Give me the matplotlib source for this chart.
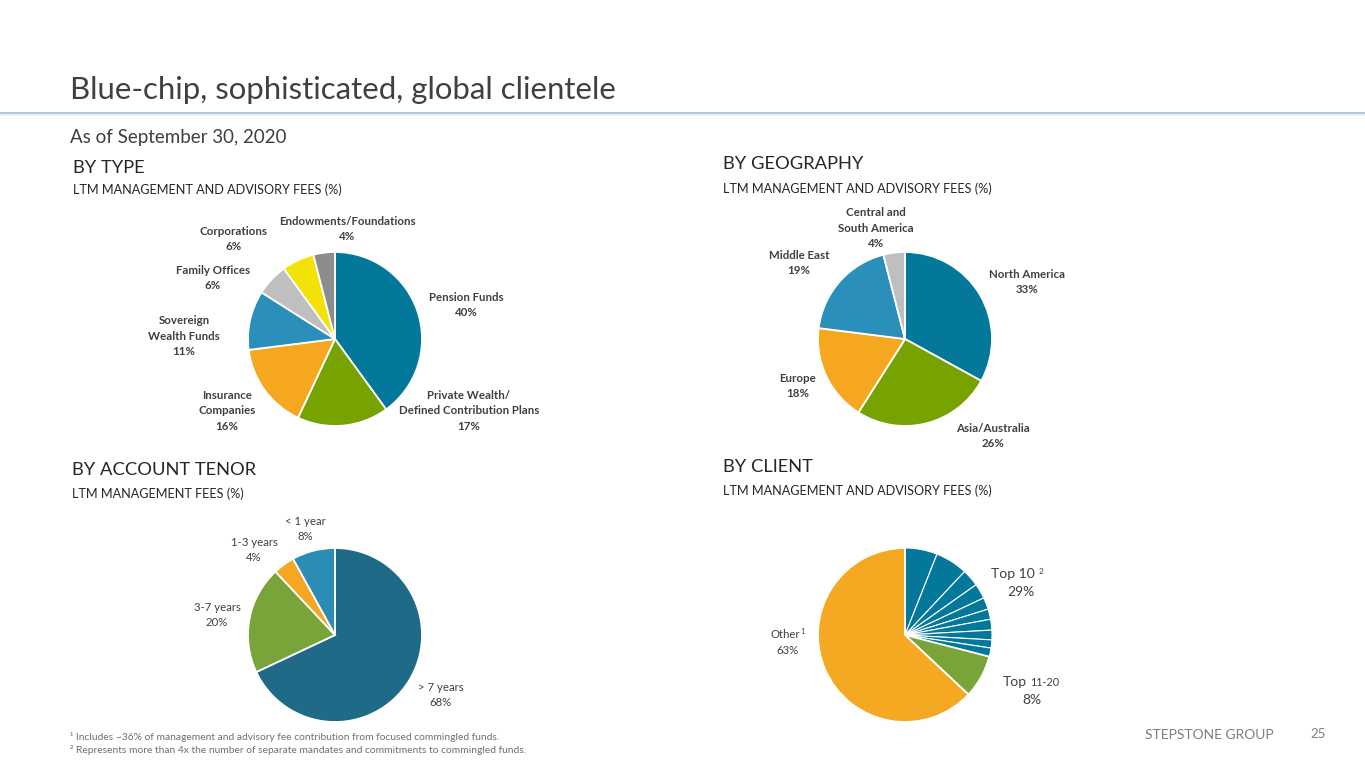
import matplotlib
matplotlib.use("Agg")
import matplotlib.pyplot as plt

W, H = 1365, 768
FONT = ["Lato", "DejaVu Sans"]
plt.rcParams['font.family'] = FONT

# ---------------- data ----------------
type_labels = ["Pension Funds", "Private Wealth/\nDefined Contribution Plans", "Insurance\nCompanies",
               "Sovereign\nWealth Funds", "Family Offices", "Corporations", "Endowments/Foundations"]
type_values = [40, 17, 16, 11, 6, 6, 4]
type_colors = ["#04789A", "#77A300", "#F5A81F", "#2A8FBA", "#BFBFBF", "#F2E205", "#8C8C8C"]

geo_labels = ["North America", "Asia/Australia", "Europe", "Middle East", "Central and\nSouth America"]
geo_values = [33, 26, 18, 19, 4]
geo_colors = ["#04789A", "#77A300", "#F5A81F", "#2A8FBA", "#BFBFBF"]

tenor_labels = ["> 7 years", "3-7 years", "1-3 years", "< 1 year"]
tenor_values = [68, 20, 4, 8]
tenor_colors = ["#1F6A86", "#78A43A", "#F5A623", "#2B8DB5"]

top10_values = [6.0, 6.0, 3.2, 2.8, 2.2, 1.9, 2.0, 1.8, 1.5, 1.6]   # sums to 29
top11_20_value = 8
other_value = 63
client_colors_top10 = "#04789A"
client_color_11_20 = "#78A43A"
client_color_other = "#F5A822"

fig = plt.figure(figsize=(W / 100, H / 100), dpi=100)
fig.patch.set_facecolor("white")


def fx(x):
    return x / W


def fy(y):
    return 1 - y / H


def txt(x, y, s, size, color="#404040", weight="normal", ha="left", va="center", ls=1.15, **kw):
    fig.text(fx(x), fy(y), s, fontsize=size, color=color, fontweight=weight,
             ha=ha, va=va, linespacing=ls, **kw)


def pie_axes(cx, cy, r):
    ax = fig.add_axes([fx(cx - r), fy(cy + r), (2 * r) / W, (2 * r) / H])
    return ax


def draw_pie(ax, values, colors):
    ax.pie(values, colors=colors, startangle=90, counterclock=False,
           wedgeprops=dict(edgecolor="white", linewidth=1.3))
    ax.set_xlim(-1, 1)
    ax.set_ylim(-1, 1)
    ax.set_aspect("equal")
    ax.axis("off")


# ---------------- header ----------------
txt(70, 90, "Blue-chip, sophisticated, global clientele", 22.4, color="#404040")
fig.add_artist(plt.Line2D([0, 1], [fy(113), fy(113)], color="#A9BCD0", lw=1.2))
fig.add_artist(plt.Line2D([0, 1], [fy(115), fy(115)], color="#E6ECF2", lw=1.2))
txt(70, 138, "As of September 30, 2020", 13.5, color="#404040")

# section titles
SUB = 9.1
txt(73, 168, "BY TYPE", 13.2, color="#262626")
txt(73, 190, "LTM MANAGEMENT AND ADVISORY FEES (%)", SUB, color="#262626")
txt(723, 164, "BY GEOGRAPHY", 13.2, color="#262626")
txt(723, 189, "LTM MANAGEMENT AND ADVISORY FEES (%)", SUB, color="#262626")
txt(72, 470, "BY ACCOUNT TENOR", 13.2, color="#262626")
txt(72, 494, "LTM MANAGEMENT FEES (%)", SUB, color="#262626")
txt(723, 467, "BY CLIENT", 13.2, color="#262626")
txt(723, 491, "LTM MANAGEMENT AND ADVISORY FEES (%)", SUB, color="#262626")

R = 87
LAB = 8.3
LS = 1.55
# ---------------- BY TYPE ----------------
ax1 = pie_axes(335, 339, R)
draw_pie(ax1, type_values, type_colors)
type_pos = [(466, 305), (469, 411), (227, 411), (184, 336), (213, 278), (234, 239), (347, 229)]
for lab, v, (x, y) in zip(type_labels, type_values, type_pos):
    txt(x, y, f"{lab}\n{v}%", LAB, weight="bold", ha="center", ls=LS)

# ---------------- BY GEOGRAPHY ----------------
ax2 = pie_axes(905, 339, R)
draw_pie(ax2, geo_values, geo_colors)
geo_pos = [(1027, 282), (993, 436), (798, 386), (799, 263), (876, 228)]
for lab, v, (x, y) in zip(geo_labels, geo_values, geo_pos):
    txt(x, y, f"{lab}\n{v}%", LAB, weight="bold", ha="center", ls=LS)

# ---------------- BY ACCOUNT TENOR ----------------
ax3 = pie_axes(335, 635, R)
draw_pie(ax3, tenor_values, tenor_colors)
tenor_pos = [(441, 695), (217, 615), (254, 550), (305, 529)]
for lab, v, (x, y) in zip(tenor_labels, tenor_values, tenor_pos):
    txt(x, y, f"{lab}\n{v}%", 8.2, ha="center", ls=LS)

# ---------------- BY CLIENT ----------------
ax4 = pie_axes(905, 635, R)
client_values = top10_values + [top11_20_value, other_value]
client_colors = [client_colors_top10] * len(top10_values) + [client_color_11_20, client_color_other]
draw_pie(ax4, client_values, client_colors)
for w in ax4.patches[:len(top10_values)]:
    w.set_linewidth(0.8)

top10_total = round(sum(top10_values))
txt(1013, 574, "Top 10", 10, ha="center")
txt(1041, 571, "2", 6, ha="center")
txt(1021, 592, f"{top10_total}%", 10, ha="center")
txt(785, 635, "Other", 8.2, ha="center")
txt(803, 632, "1", 5.5, ha="center")
txt(788, 651, f"{other_value}%", 8.2, ha="center")
txt(1015, 682, "Top", 10, ha="center")
txt(1045, 683, "11-20", 7.8, ha="center")
txt(1032, 700, f"{top11_20_value}%", 10, ha="center")

# ---------------- footer ----------------
txt(70, 737, "¹ Includes ~36% of management and advisory fee contribution from focused commingled funds.",
    7.4, color="#6F6F6F")
txt(70, 750, "² Represents more than 4x the number of separate mandates and commitments to commingled funds.",
    7.4, color="#6F6F6F")
txt(1145, 735, "STEPSTONE GROUP", 10, color="#7F7F7F")
txt(1318, 734, "25", 9.5, color="#7F7F7F", ha="center")

fig.savefig("out.png", dpi=100, facecolor="white")
